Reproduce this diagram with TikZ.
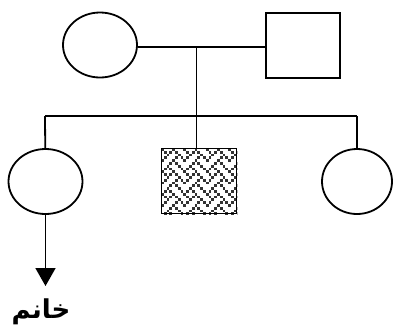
\documentclass[tikz,border=0pt]{standalone}
\usepackage{fontspec}
\usetikzlibrary{shapes.geometric,arrows.meta}
\newfontfamily\arabicfont[Script=Arabic]{DejaVu Sans}
\TeXXeTstate=1
\begin{document}
\begin{tikzpicture}[x=1pt,y=-1pt,line width=1.8pt,
  fem/.style={draw,ellipse,inner sep=0pt,minimum width=74pt,minimum height=65pt},
  mal/.style={draw,rectangle,inner sep=0pt,minimum width=74pt,minimum height=65pt},
  link/.style={draw,line width=1.8pt},
  pat/.style={fill=black!80}]
\useasboundingbox (0,0) rectangle (393,333);
% parents
\node[fem] (mo) at (100,45) {};
\node[mal] (fa) at (303,45.5) {};
\coordinate (mm) at (196.5,47);
\draw[link] (mo.east |- mm) -- (fa.west |- mm);
% sibship
\coordinate (sm) at (196.5,116);
\coordinate (sl) at (45,116);
\coordinate (sr) at (357,116);
\draw[link] (mm) -- (sm);
\draw[link] (sl) -- (sr);
% children
\node[fem] (c1) at (45.5,181.5) {};
\node[mal,minimum width=75pt,minimum height=65pt] (c2) at (199,181) {};
\node[fem,minimum width=70pt] (c3) at (357,181.5) {};
\draw[link] (sl) -- (c1);
\draw[link] (sr) -- (c3);
\draw[link] (sm) -- (sm |- c2.north);
% weave pattern
\begin{scope}
\clip (c2.south west) rectangle (c2.north east);
\foreach \ty in {0,...,3} {
  \foreach \tx in {0,...,3} {
    \foreach \rw/\cols in {0/{0,4},1/{1,3,5},2/{2,6},3/{1,5,7},4/{0,4},5/{3,5},6/{2,6},7/{1,3,7}} {
      \foreach \c in \cols {
        \fill[pat] ({161+22.4*\tx+2.8*\c},{148+22.4*\ty+2.8*\rw}) rectangle ++(2.8,2.8);
      }
    }
  }
}
\end{scope}
\node[mal,minimum width=75pt,minimum height=65pt] at (c2) {};
% arrow and label
\coordinate (tip) at (45.5,286);
\draw[link,-{Triangle[width=20pt,length=18pt]}] (c1.south) -- (tip);
\node[inner sep=0pt] (lbl) at (41,312) {\arabicfont\bfseries\fontsize{26}{30}\selectfont\beginR خانم\endR};
\end{tikzpicture}
\end{document}
